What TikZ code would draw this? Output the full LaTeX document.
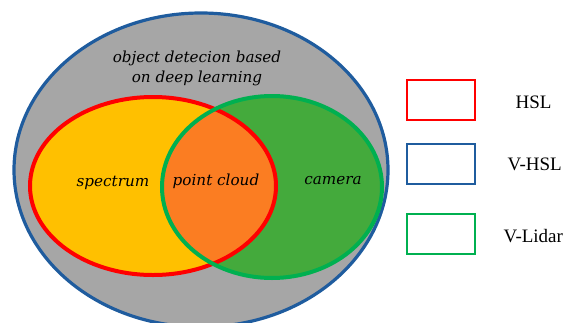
\documentclass[tikz,border=0pt]{standalone}
\usepackage{fontspec}
\newfontfamily\legendfont{Liberation Serif}
\newfontfamily\setfont{DejaVu Serif}
\usetikzlibrary{positioning}
\definecolor{setgray}{HTML}{A6A6A6}
\definecolor{setblue}{HTML}{1F5C9E}
\definecolor{setred}{HTML}{FF0000}
\definecolor{setgreen}{HTML}{00B050}
\definecolor{fillyellow}{HTML}{FFC000}
\definecolor{fillgreen}{HTML}{44AA3C}
\definecolor{fillorange}{HTML}{FB7D22}
\tikzset{
  setlabel/.style={font=\setfont\itshape\fontsize{15.2}{20}\selectfont, text=black, align=center},
  legendbox/.style={draw, line width=1.6pt, minimum width=68pt, minimum height=40pt, inner sep=0pt},
  legendtext/.style={font=\legendfont\fontsize{19}{21}\selectfont, anchor=west}
}
\begin{document}
\begin{tikzpicture}[x=1pt,y=-1pt]
		\useasboundingbox (0,0) rectangle (563,322);
		\clip (0,0) rectangle (563,322);
		\coordinate (O) at (201,170);
		\coordinate (R) at (153,186);
		\coordinate (G) at (272,187);
		\def\outer{(O) ellipse [x radius=187pt, y radius=157pt]}
		\def\redset{(R) ellipse [x radius=123pt, y radius=89pt]}
		\def\greenset{(G) ellipse [x radius=110pt, y radius=91pt]}
		
		% sets
		\fill[setgray] \outer;
		\draw[setblue, line width=3.2pt] \outer;
		\fill[fillyellow] \redset;
		\fill[fillgreen] \greenset;
		\begin{scope}
			\clip \redset;
			\fill[fillorange] \greenset;
		\end{scope}
		\draw[setred, line width=4pt] \redset;
		\draw[setgreen, line width=4pt] \greenset;
		
		\node[setlabel] (deep) at (197,68) {object detecion based\\on deep learning};
		\node[setlabel] (spectrum) at (113,183) {spectrum};
		\node[setlabel] (cloud) at (216,181) {point cloud};
		\node[setlabel] (camera) at (333,181) {camera};
		
		% legend
		\node[legendbox, draw=setred] (hsl) at (441,100) {};
		\node[legendbox, draw=setblue] (vhsl) at (441,164) {};
		\node[legendbox, draw=setgreen] (vlidar) at (441,234) {};
		\node[legendtext] at (512,102) (hsltext) {HSL};
		\node[legendtext] at (504,164) (vhsltext) {V-HSL};
		\node[legendtext] at (500,236) (vlidartext) {V-Lidar};
	\end{tikzpicture}
\end{document}
